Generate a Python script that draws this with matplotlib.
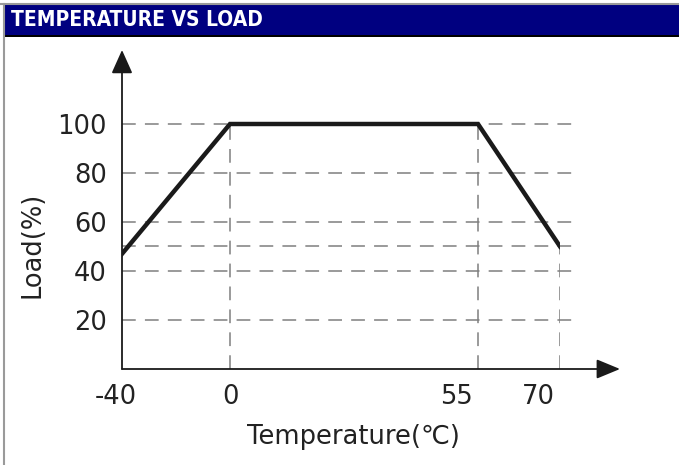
import numpy as np
import matplotlib.pyplot as plt
import matplotlib.transforms as mtransforms
from matplotlib.patches import Rectangle
from matplotlib.lines import Line2D

# derating curve
temperature = [-40, 0, 55, 70]
load = [47, 100, 100, 50]

x_ticks = [-40, 0, 55, 70]
x_tick_labels = ["-40", "0", "55", "70"]
y_ticks = [20, 40, 60, 80, 100]
grid_levels = [20, 40, 50, 60, 80, 100]

FONT = ["DejaVu Sans"]
FS = 18.5
W, H = 679, 465

fig = plt.figure(figsize=(W / 100, H / 100), dpi=100)
fig.patch.set_facecolor("white")

# schematic (non-linear) temperature axis: piecewise mapping
seg_pos = [0, 108, 356, 438]


def fwd(x):
    return np.interp(x, temperature, seg_pos)


def inv(p):
    return np.interp(p, seg_pos, temperature)


# axes: x from 122 to 560 px, y from 369 (0) to 50 px
left, right, bottom, top = 122, 560, 369, 50
ax = fig.add_axes([left / W, 1 - bottom / H, (right - left) / W, (bottom - top) / H])
ax.set_xscale("function", functions=(fwd, inv))
ax.set_xlim(-40, 70)
ax.set_ylim(0, (bottom - top) / 2.45)
for s in ax.spines.values():
    s.set_visible(False)
ax.patch.set_alpha(0)

# dashed guide lines
dash = dict(color="#7f7f7f", lw=1.1, linestyle=(0, (9, 6)))
x_end = (580 - left) / (right - left)
for lv in grid_levels:
    ax.axhline(lv, xmin=0, xmax=x_end, clip_on=False, **dash)
ax.vlines([0, 55], 0, 100, **dash)
ax.vlines([70], 0, 50, **dash)

# curve
ax.plot(temperature, load, color="#1a1a1a", lw=3.2, solid_joinstyle="miter", zorder=5)

# axes with arrows
x_tip = (620 - left) / (right - left)
ax.annotate("", xy=(x_tip, 0), xytext=(0, 0), xycoords="axes fraction",
            arrowprops=dict(arrowstyle="-|>,head_length=1.45,head_width=0.6",
                            color="#1a1a1a", lw=1.3, shrinkA=0, shrinkB=0,
                            mutation_scale=10))
ax.annotate("", xy=(0, 1.0), xytext=(0, 0), xycoords="axes fraction",
            arrowprops=dict(arrowstyle="-|>,head_length=1.45,head_width=0.65",
                            color="#1a1a1a", lw=1.3, shrinkA=0, shrinkB=0,
                            mutation_scale=10))

# ticks
ax.set_xticks(x_ticks)
ax.set_xticklabels(x_tick_labels, fontfamily=FONT, fontsize=FS, color="#222222")
ax.set_yticks(y_ticks)
ax.set_yticklabels([str(v) for v in y_ticks], fontfamily=FONT, fontsize=FS, color="#222222")
ax.tick_params(axis="both", length=0)
ax.tick_params(axis="x", pad=11)
ax.tick_params(axis="y", pad=11)

shifts = [-6, 0, -22, -22]
for lab, dx in zip(ax.get_xticklabels(), shifts):
    lab.set_transform(lab.get_transform()
                      + mtransforms.ScaledTranslation(dx / 100, 0, fig.dpi_scale_trans))

fig.text(353 / W, 1 - 437 / H, "Temperature(℃)", ha="center", va="center",
         fontsize=FS, family=FONT, color="#222222")
fig.text(32 / W, 1 - 245 / H, "Load(%)", ha="center", va="center", rotation=90,
         fontsize=FS, family=FONT, color="#222222")

# title bar
fig.patches.append(Rectangle((4 / W, 1 - 35 / H), 1, 30 / H, transform=fig.transFigure,
                             facecolor="#000080", edgecolor="none", zorder=0))
fig.patches.append(Rectangle((4 / W, 1 - 37 / H), 1, 2.2 / H, transform=fig.transFigure,
                             facecolor="black", edgecolor="none", zorder=0))
fig.lines.append(Line2D([0, 1], [1 - 4.5 / H, 1 - 4.5 / H], transform=fig.transFigure,
                        color="#9a9a9a", lw=1.5))
fig.lines.append(Line2D([3.5 / W, 3.5 / W], [0, 1 - 4 / H], transform=fig.transFigure,
                        color="#9a9a9a", lw=1.5))
fig.text(11 / W, 1 - 20.5 / H, "TEMPERATURE VS LOAD", ha="left", va="center",
         fontsize=15, fontweight="bold", fontstretch="condensed", color="white",
         family=["DejaVu Sans"])

fig.savefig("out.png", dpi=100)
